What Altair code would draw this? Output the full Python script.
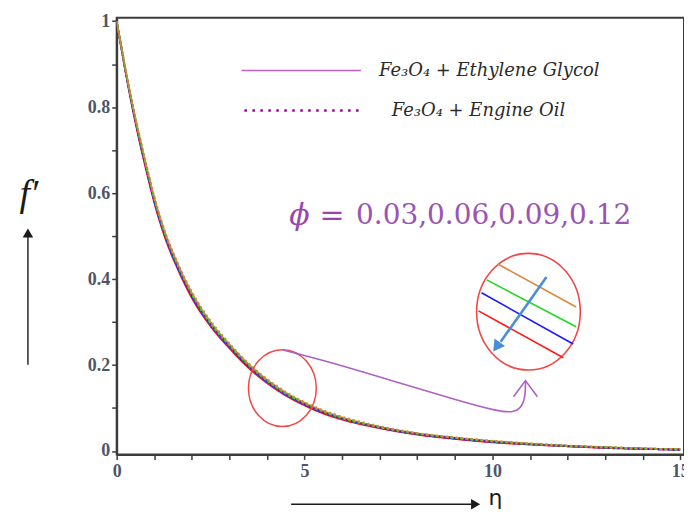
import altair as alt
import pandas as pd

# ---------------- data ----------------
eta = [0, 0.2, 0.4, 0.6, 0.8, 1.0, 1.3, 1.6, 2.0, 2.5, 3.0, 3.5, 4.0, 4.5, 5.0,
       5.5, 6.0, 7.0, 8.0, 9.0, 10, 11, 12, 13, 14, 15]

phi_labels = ["0.03", "0.06", "0.09", "0.12"]
phi_colors = ["#d8893f", "#1fd81f", "#1a1aff", "#ff1a1a"]

# Fe3O4 + Ethylene Glycol (solid)
eg_003 = [1.000, 0.905, 0.815, 0.735, 0.660, 0.590, 0.505, 0.440, 0.368, 0.300, 0.248, 0.203, 0.166,
          0.136, 0.112, 0.093, 0.078, 0.056, 0.041, 0.031, 0.023, 0.017, 0.012, 0.009, 0.006, 0.004]
eg_006 = [1.000, 0.903, 0.812, 0.731, 0.656, 0.586, 0.501, 0.436, 0.364, 0.296, 0.245, 0.200, 0.163,
          0.133, 0.110, 0.091, 0.076, 0.055, 0.040, 0.030, 0.022, 0.016, 0.012, 0.008, 0.006, 0.003]
eg_009 = [1.000, 0.901, 0.809, 0.727, 0.652, 0.582, 0.497, 0.432, 0.360, 0.293, 0.242, 0.197, 0.161,
          0.131, 0.108, 0.089, 0.075, 0.054, 0.039, 0.029, 0.021, 0.016, 0.011, 0.008, 0.005, 0.003]
eg_012 = [1.000, 0.899, 0.806, 0.723, 0.648, 0.578, 0.493, 0.428, 0.356, 0.290, 0.239, 0.194, 0.158,
          0.129, 0.106, 0.087, 0.073, 0.053, 0.038, 0.028, 0.020, 0.015, 0.011, 0.007, 0.005, 0.003]
# Fe3O4 + Engine Oil (dotted)
eo_003 = [1.000, 0.907, 0.818, 0.738, 0.663, 0.593, 0.508, 0.443, 0.371, 0.303, 0.251, 0.205, 0.168,
          0.138, 0.114, 0.095, 0.080, 0.058, 0.042, 0.032, 0.024, 0.018, 0.013, 0.009, 0.006, 0.004]
eo_006 = [1.000, 0.905, 0.815, 0.734, 0.659, 0.589, 0.504, 0.439, 0.367, 0.299, 0.248, 0.202, 0.165,
          0.135, 0.112, 0.093, 0.078, 0.057, 0.041, 0.031, 0.023, 0.017, 0.012, 0.009, 0.006, 0.004]
eo_009 = [1.000, 0.903, 0.812, 0.730, 0.655, 0.585, 0.500, 0.435, 0.363, 0.296, 0.245, 0.199, 0.163,
          0.133, 0.110, 0.091, 0.076, 0.055, 0.040, 0.030, 0.022, 0.016, 0.012, 0.008, 0.005, 0.003]
eo_012 = [1.000, 0.901, 0.809, 0.726, 0.651, 0.581, 0.496, 0.431, 0.359, 0.293, 0.242, 0.196, 0.160,
          0.131, 0.108, 0.089, 0.074, 0.054, 0.039, 0.029, 0.021, 0.015, 0.011, 0.007, 0.005, 0.003]

x_ticks = [0, 1, 2, 3, 4, 5, 6, 7, 8, 9, 10, 11, 12, 13, 14, 15]
y_ticks = [0, 0.1, 0.2, 0.3, 0.4, 0.5, 0.6, 0.7, 0.8, 0.9, 1.0]

# annotation anchors (data units)
legend_names = ["Fe₃O₄ + Ethylene Glycol", "Fe₃O₄ + Engine Oil"]
legend_line_x = [[3.32, 6.50], [3.40, 6.45]]
legend_line_y = [0.885, 0.792]
legend_text_x = [6.98, 7.32]
legend_colors = ["#c060c8", "#99009a"]

phi_sym_pos = [4.59, 0.546]
phi_eq_pos = [5.40, 0.546]
phi_text = "0.03,0.06,0.09,0.12"
phi_text_pos = [6.37, 0.546]

ellipse_small = [4.41, 0.146]
ellipse_big = [10.96, 0.324]

inset_x0 = [10.14, 9.85, 9.71, 9.63]
inset_y0 = [0.435, 0.398, 0.368, 0.326]
inset_x1 = [12.23, 12.23, 12.15, 11.89]
inset_y1 = [0.335, 0.289, 0.249, 0.217]

blue_arrow = [11.44, 0.405, 10.22, 0.254]
blue_head = [10.11, 0.242]

purple_x = [4.43, 5.65, 7.51, 9.10, 10.16, 10.56, 10.80, 10.88, 10.88]
purple_y = [0.235, 0.208, 0.159, 0.117, 0.092, 0.089, 0.103, 0.131, 0.162]
purple_head = [10.88, 0.145]

# ---------------- build tables ----------------
rows = []
# drawing order: solid red..orange first, then dotted red..orange on top
series = [("EG", eg_012, "0.12"), ("EG", eg_009, "0.09"), ("EG", eg_006, "0.06"), ("EG", eg_003, "0.03"),
          ("EO", eo_012, "0.12"), ("EO", eo_009, "0.09"), ("EO", eo_006, "0.06"), ("EO", eo_003, "0.03")]
for n, (fluid, vals, phi) in enumerate(series):
    for e, v in zip(eta, vals):
        rows.append({"eta": e, "f": v, "phi": phi, "fluid": fluid, "key": f"{n}_{fluid}{phi}"})
curves = pd.DataFrame(rows)

XDOM = [0, 15.1]
YDOM = [-0.008, 1.008]

X_AXIS = alt.Axis(values=x_ticks, title=None, grid=False,
                  labelExpr="datum.value % 5 == 0 ? datum.label : ''",
                  tickSize=5, tickWidth=1.5, domainWidth=2,
                  domainColor="#3c3c3c", tickColor="#3c3c3c",
                  labelFont="Liberation Serif", labelFontSize=18,
                  labelFontWeight="bold", labelColor="#4d5566",
                  labelPadding=3, labelFlush=False)
Y_AXIS = alt.Axis(values=y_ticks, title=None, grid=False,
                  labelExpr="datum.value == 0 ? '0' : (datum.value == 1 ? '1' : "
                            "(indexof(['0.2','0.4','0.6','0.8'], format(datum.value, '.1f')) >= 0 ? "
                            "format(datum.value, '.1f') : ''))",
                  tickSize=5, tickWidth=1.5, domainWidth=2,
                  domainColor="#3c3c3c", tickColor="#3c3c3c",
                  labelFont="Liberation Serif", labelFontSize=18,
                  labelFontWeight="bold", labelColor="#4d5566",
                  labelPadding=2, labelFlush=False)


def X(field="x"):
    return alt.X(f"{field}:Q", scale=alt.Scale(domain=XDOM, nice=False, zero=False), axis=X_AXIS)


def Y(field="y"):
    return alt.Y(f"{field}:Q", scale=alt.Scale(domain=YDOM, nice=False, zero=False), axis=Y_AXIS)


lines = alt.Chart(curves).mark_line(interpolate="monotone", strokeWidth=1.8, clip=True).encode(
    x=X("eta"),
    y=Y("f"),
    color=alt.Color("phi:N", scale=alt.Scale(domain=phi_labels, range=phi_colors), legend=None),
    strokeDash=alt.StrokeDash("fluid:N", scale=alt.Scale(domain=["EG", "EO"], range=[[1, 0], [2, 3]]),
                              legend=None),
    detail="key:N",
)

# legend lines
leg_df = pd.DataFrame({
    "x": [legend_line_x[0][0], legend_line_x[1][0]],
    "x2": [legend_line_x[0][1], legend_line_x[1][1]],
    "y": legend_line_y,
    "name": legend_names,
    "tx": legend_text_x,
})
leg_solid = alt.Chart(leg_df.iloc[[0]]).mark_rule(strokeWidth=1.5, color=legend_colors[0]).encode(
    x=X("x"), x2="x2:Q", y=Y("y"))
leg_dot = alt.Chart(leg_df.iloc[[1]]).mark_rule(strokeWidth=2.5, color=legend_colors[1],
                                                 strokeDash=[2.5, 5.5]).encode(
    x=X("x"), x2="x2:Q", y=Y("y"))
leg_text = alt.Chart(leg_df).mark_text(align="left", baseline="middle", font="DejaVu Serif",
                                       fontStyle="italic", fontSize=18, color="#2a2a2a").encode(
    x=X("tx"), y=Y("y"), text="name:N")

# phi annotation
phi_df = pd.DataFrame({"x": [phi_sym_pos[0], phi_eq_pos[0]], "y": [phi_sym_pos[1], phi_eq_pos[1]],
                       "t": ["ϕ", "="]})
phi_sym = alt.Chart(phi_df).mark_text(align="left", baseline="middle", font="DejaVu Serif",
                                      fontStyle="italic", fontSize=30, color="#9a45ad").encode(
    x=X("x"), y=Y("y"), text="t:N")
phi_df2 = pd.DataFrame({"x": [phi_text_pos[0]], "y": [phi_text_pos[1]], "t": [phi_text]})
phi_txt = alt.Chart(phi_df2).mark_text(align="left", baseline="middle", font="DejaVu Serif",
                                       fontSize=28, color="#9a55b3").encode(
    x=X("x"), y=Y("y"), text="t:N")


# ellipses
def ellipse_path(r):
    k = 0.5523
    return (f"M0,-1 C{k*r:.3f},-1 {r:.3f},{-k:.3f} {r:.3f},0 "
            f"C{r:.3f},{k:.3f} {k*r:.3f},1 0,1 "
            f"C{-k*r:.3f},1 {-r:.3f},{k:.3f} {-r:.3f},0 "
            f"C{-r:.3f},{-k:.3f} {-k*r:.3f},-1 0,-1 Z")


ell_small = alt.Chart(pd.DataFrame({"x": [ellipse_small[0]], "y": [ellipse_small[1]]})).mark_point(
    shape=ellipse_path(0.883), size=77 * 77, filled=False, color="#f04848", strokeWidth=1.5, opacity=1
).encode(x=X("x"), y=Y("y"))
ell_big = alt.Chart(pd.DataFrame({"x": [ellipse_big[0]], "y": [ellipse_big[1]]})).mark_point(
    shape=ellipse_path(0.889), size=117 * 117, filled=False, color="#f04848", strokeWidth=1.6, opacity=1
).encode(x=X("x"), y=Y("y"))

# inset lines
inset_df = pd.DataFrame({"x": inset_x0, "y": inset_y0, "x2": inset_x1, "y2": inset_y1, "phi": phi_labels})
inset = alt.Chart(inset_df).mark_rule(strokeWidth=1.6).encode(
    x=X("x"), y=Y("y"), x2="x2:Q", y2="y2:Q",
    color=alt.Color("phi:N", scale=alt.Scale(domain=phi_labels, range=phi_colors), legend=None))

# blue arrow
ba_df = pd.DataFrame({"x": [blue_arrow[0]], "y": [blue_arrow[1]], "x2": [blue_arrow[2]], "y2": [blue_arrow[3]]})
blue_line = alt.Chart(ba_df).mark_rule(strokeWidth=2.6, color="#4a8fd6").encode(
    x=X("x"), y=Y("y"), x2="x2:Q", y2="y2:Q")
bh_df = pd.DataFrame({"x": [blue_head[0]], "y": [blue_head[1]]})
blue_tip = alt.Chart(bh_df).mark_point(shape="triangle-up", filled=True, size=170, angle=215,
                                       color="#4a8fd6", opacity=1).encode(x=X("x"), y=Y("y"))

# purple curved arrow
pp_df = pd.DataFrame({"x": purple_x, "y": purple_y, "i": list(range(len(purple_x)))})
purple_line = alt.Chart(pp_df).mark_line(strokeWidth=1.6, color="#ad62c2", interpolate="basis").encode(
    x=X("x"), y=Y("y"), order="i:Q")
ph_df = pd.DataFrame({"x": [purple_head[0]], "y": [purple_head[1]]})
purple_tip = alt.Chart(ph_df).mark_point(shape="M-1,0.67 L0,-0.67 L1,0.67", filled=False, size=576,
                                         color="#ad62c2", strokeWidth=1.6, opacity=1).encode(
    x=X("x"), y=Y("y"))

# axis titles with arrows (outside the plot, pixel positions relative to plot origin)
one = pd.DataFrame({"a": [0]})
fprime = alt.Chart(one).mark_text(text="f′", font="Liberation Serif", fontStyle="italic",
                                  fontSize=38, color="#1a1a1a", align="center", baseline="middle").encode(
    x=alt.value(-88), y=alt.value(178))
y_arrow = alt.Chart(one).mark_rule(strokeWidth=1.4, color="#1a1a1a").encode(
    x=alt.value(-89), y=alt.value(348), y2=alt.value(220))
y_head = alt.Chart(one).mark_point(shape="triangle-up", filled=True, size=110, color="#1a1a1a",
                                   opacity=1).encode(x=alt.value(-89), y=alt.value(216))
x_arrow = alt.Chart(one).mark_rule(strokeWidth=1.4, color="#1a1a1a").encode(
    x=alt.value(175), x2=alt.value(360), y=alt.value(488))
x_head = alt.Chart(one).mark_point(shape="triangle-right", filled=True, size=110, color="#1a1a1a",
                                   opacity=1).encode(x=alt.value(360), y=alt.value(488))
eta_lbl = alt.Chart(one).mark_text(text="η", font="DejaVu Sans", fontSize=22, color="#1a1a1a",
                                   align="left", baseline="middle").encode(
    x=alt.value(373), y=alt.value(482))

chart = alt.layer(
    lines, leg_solid, leg_dot, leg_text, phi_sym, phi_txt, ell_small, ell_big, inset,
    blue_line, blue_tip, purple_line, purple_tip, fprime, y_arrow, y_head, x_arrow, x_head, eta_lbl
).properties(
    width=569, height=438,
    autosize=alt.AutoSizeParams(type="none"),
    padding={"left": 109, "top": 9, "right": 0, "bottom": 55},
).configure(
    background="white"
).configure_view(
    stroke="#3c3c3c", strokeWidth=2
)

chart.save("out.html", embed_options={"renderer": "svg", "actions": False})
